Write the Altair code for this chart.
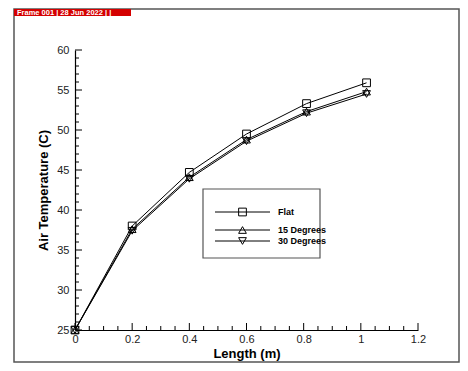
import altair as alt
import pandas as pd
import numpy as np

# ---- data ----
length_m = [0.0, 0.2, 0.4, 0.6, 0.81, 1.02]
flat = [25.0, 38.0, 44.7, 49.5, 53.3, 55.9]
deg15 = [25.0, 37.6, 44.1, 48.8, 52.3, 54.8]
deg30 = [25.0, 37.4, 43.9, 48.6, 52.1, 54.5]
series_names = ["Flat", "15 Degrees", "30 Degrees"]
legend_labels = ["Flat", "15 Degrees", " 30 Degrees"]
shapes = ["square", "triangle-up", "triangle-down"]

x_major = [0, 0.2, 0.4, 0.6, 0.8, 1.0, 1.2]
x_minor = [round(v, 2) for v in np.arange(0, 1.2001, 0.05) if round(v / 0.2, 6) % 1 != 0]
y_major = [25, 30, 35, 40, 45, 50, 55, 60]
y_minor = [v for v in range(25, 61) if v % 5 != 0]

header_text = "Frame 001  |  28 Jun 2022  |  |"

W, H = 343, 280
FONT = "Liberation Sans"

rows = []
for name, vals in zip(series_names, [flat, deg15, deg30]):
    for x, y in zip(length_m, vals):
        rows.append({"series": name, "x": x, "y": y})
df = pd.DataFrame(rows)

xs = alt.Scale(domain=[0, 1.2], nice=False, zero=False)
ys = alt.Scale(domain=[25, 60], nice=False, zero=False)

x_axis = alt.Axis(values=x_major, format="~g", ticks=False, grid=False,
                  labelOverlap=False, labelFlush=False,
                  domainColor="black", domainWidth=1.2,
                  labelFont=FONT, labelFontSize=11, labelColor="#222",
                  labelPadding=3, titleFont=FONT, titleFontSize=13,
                  titleFontWeight="bold", titleColor="black", titlePadding=3)
y_axis = alt.Axis(values=y_major, ticks=False, grid=False,
                  labelOverlap=False, labelFlush=False,
                  domainColor="black", domainWidth=1.2,
                  labelFont=FONT, labelFontSize=11, labelColor="#222",
                  labelPadding=6, titleFont=FONT, titleFontSize=13,
                  titleFontWeight="bold", titleColor="black", titlePadding=6)

base = alt.Chart(df)
lines = base.mark_line(color="black", strokeWidth=1).encode(
    x=alt.X("x:Q", scale=xs, title="Length (m)", axis=x_axis),
    y=alt.Y("y:Q", scale=ys, title="Air Temperature (C)", axis=y_axis),
    detail="series:N",
)
points = base.mark_point(filled=False, color="black", strokeWidth=1, size=60, opacity=1).encode(
    x=alt.X("x:Q", scale=xs, title="Length (m)", axis=x_axis),
    y=alt.Y("y:Q", scale=ys, title="Air Temperature (C)", axis=y_axis),
    shape=alt.Shape("series:N", scale=alt.Scale(domain=series_names, range=shapes), legend=None),
)

# inward ticks (same field names so the axes merge cleanly)
def xticks(vals, ln):
    return alt.Chart(pd.DataFrame({"x": vals})).mark_rule(color="black", strokeWidth=1).encode(
        x=alt.X("x:Q", scale=xs, title="Length (m)", axis=x_axis),
        y=alt.value(H), y2=alt.value(H - ln))

def yticks(vals, ln):
    return alt.Chart(pd.DataFrame({"y": vals})).mark_rule(color="black", strokeWidth=1).encode(
        y=alt.Y("y:Q", scale=ys, title="Air Temperature (C)", axis=y_axis),
        x=alt.value(0), x2=alt.value(ln))

# frame and header
frame = alt.Chart(pd.DataFrame({"a": [0]})).mark_rect(
    fill=None, stroke="#555", strokeWidth=1.5).encode(
    x=alt.value(-61), x2=alt.value(384), y=alt.value(-41), y2=alt.value(312))
header = alt.Chart(pd.DataFrame({"a": [0]})).mark_rect(fill="#d40000").encode(
    x=alt.value(-61), x2=alt.value(56), y=alt.value(-41), y2=alt.value(-34))
header_t = alt.Chart(pd.DataFrame({"t": [header_text]})).mark_text(
    font=FONT, fontSize=7.5, fontWeight="bold", color="white", align="left",
    baseline="middle").encode(text="t:N", x=alt.value(-58), y=alt.value(-37.5))

# legend
leg_box = alt.Chart(pd.DataFrame({"a": [0]})).mark_rect(
    fill="white", stroke="#555", strokeWidth=1.2).encode(
    x=alt.value(128), x2=alt.value(245), y=alt.value(139), y2=alt.value(208))
leg_layers = [leg_box]
leg_y = [162, 180, 191]
for name, lab, shp, ly in zip(series_names, legend_labels, shapes, leg_y):
    one = pd.DataFrame({"series": [name], "label": [lab]})
    leg_layers.append(alt.Chart(one).mark_rule(color="black", strokeWidth=1).encode(
        x=alt.value(140), x2=alt.value(195), y=alt.value(ly)))
    leg_layers.append(alt.Chart(one).mark_point(
        filled=False, color="black", strokeWidth=1, size=60, opacity=1, shape=shp).encode(
        x=alt.value(167.5), y=alt.value(ly)))
    leg_layers.append(alt.Chart(one).mark_text(
        font=FONT, fontSize=9, fontWeight="bold", color="black", align="left",
        baseline="middle").encode(text="label:N", x=alt.value(203), y=alt.value(ly)))

chart = alt.layer(
    lines, points,
    xticks(x_major, 7), xticks(x_minor, 4), yticks(y_major, 7), yticks(y_minor, 4),
    frame, header, header_t, *leg_layers,
).properties(
    width=W, height=H,
    autosize=alt.AutoSizeParams(type="none"),
    padding={"left": 67, "top": 42, "right": 42, "bottom": 33},
).configure(
    background="white", view={"stroke": None},
    axis={"labelOverlap": False},
)

chart.save("out.html", embed_options={"renderer": "svg", "actions": False})
